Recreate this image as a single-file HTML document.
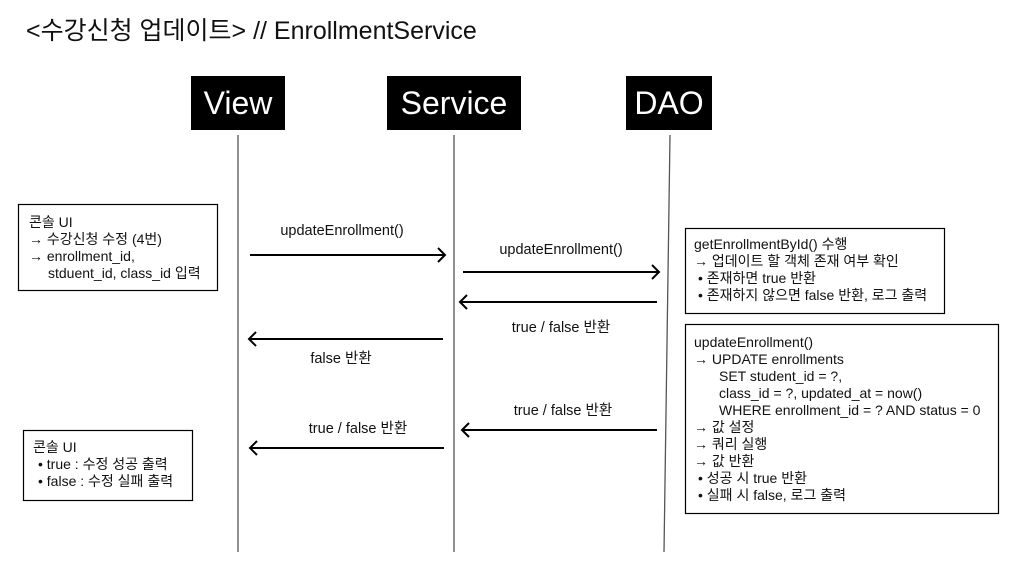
<!DOCTYPE html>
<html><head><meta charset="utf-8"><style>
body{margin:0;width:1018px;height:582px;background:#fff;overflow:hidden;font-family:"Liberation Sans","Noto Sans CJK KR",sans-serif;}
svg{position:absolute;left:0;top:0}
.t{font-family:"Liberation Sans","Noto Sans CJK KR",sans-serif;}
</style></head><body>
<svg width="1018" height="582" xmlns="http://www.w3.org/2000/svg" class="t">
<text x="26" y="39" font-size="25" fill="#111">&lt;수강신청 업데이트&gt; // EnrollmentService</text>
<rect x="191" y="76" width="94" height="54" fill="#000"/>
<text x="238" y="114" font-size="32" fill="#fff" text-anchor="middle">View</text>
<rect x="387" y="76" width="134" height="54" fill="#000"/>
<text x="454" y="114" font-size="32" fill="#fff" text-anchor="middle">Service</text>
<rect x="626" y="76" width="86" height="54" fill="#000"/>
<text x="669" y="114" font-size="32" fill="#fff" text-anchor="middle">DAO</text>
<g stroke="#555" stroke-width="1.3">
<line x1="238" y1="135" x2="238" y2="552"/>
<line x1="454" y1="135" x2="454" y2="552"/>
<line x1="670" y1="135" x2="664" y2="552"/>
</g>
<g stroke="#000" stroke-width="2" fill="none">
<line x1="250" y1="255" x2="445" y2="255"/><polyline points="438,248 445,255 438,262"/>
<line x1="463" y1="272" x2="659" y2="272"/><polyline points="652,265 659,272 652,279"/>
<line x1="657" y1="302" x2="460" y2="302"/><polyline points="467,295 460,302 467,309"/>
<line x1="443" y1="339" x2="249" y2="339"/><polyline points="256,332 249,339 256,346"/>
<line x1="657" y1="430" x2="462" y2="430"/><polyline points="469,423 462,430 469,437"/>
<line x1="444" y1="448" x2="250" y2="448"/><polyline points="257,441 250,448 257,455"/>
</g>
<g font-size="14.5" fill="#111" text-anchor="middle">
<text x="342" y="235">updateEnrollment()</text>
<text x="561" y="254">updateEnrollment()</text>
<text x="561" y="332">true / false 반환</text>
<text x="341" y="363">false 반환</text>
<text x="563" y="415">true / false 반환</text>
<text x="358" y="433">true / false 반환</text>
</g>
<g stroke="#000" stroke-width="1.2" fill="#fff">
<rect x="18.5" y="204.5" width="199" height="86"/>
<rect x="23.5" y="430.5" width="169" height="70"/>
<rect x="685.5" y="228.5" width="259" height="85"/>
<rect x="685.5" y="324.5" width="313" height="189"/>
</g>
<g font-size="14" fill="#111">
<text x="29" y="227">콘솔 UI</text>
<text x="29" y="244">→ 수강신청 수정 (4번)</text>
<text x="29" y="261">→ enrollment_id,</text>
<text x="48" y="278">stduent_id, class_id 입력</text>
<text x="33" y="452">콘솔 UI</text>
<text x="38" y="469">• true : 수정 성공 출력</text>
<text x="38" y="486">• false : 수정 실패 출력</text>
<text x="694" y="249">getEnrollmentById() 수행</text>
<text x="694" y="266">→ 업데이트 할 객체 존재 여부 확인</text>
<text x="698" y="283">• 존재하면 true 반환</text>
<text x="698" y="300">• 존재하지 않으면 false 반환, 로그 출력</text>
<text x="694" y="347">updateEnrollment()</text>
<text x="694" y="364">→ UPDATE enrollments</text>
<text x="719" y="381">SET student_id = ?,</text>
<text x="719" y="398">class_id = ?, updated_at = now()</text>
<text x="719" y="415">WHERE enrollment_id = ? AND status = 0</text>
<text x="694" y="432">→ 값 설정</text>
<text x="694" y="449">→ 쿼리 실행</text>
<text x="694" y="466">→ 값 반환</text>
<text x="698" y="483">• 성공 시 true 반환</text>
<text x="698" y="500">• 실패 시 false, 로그 출력</text>
</g>
</svg>
</body></html>
